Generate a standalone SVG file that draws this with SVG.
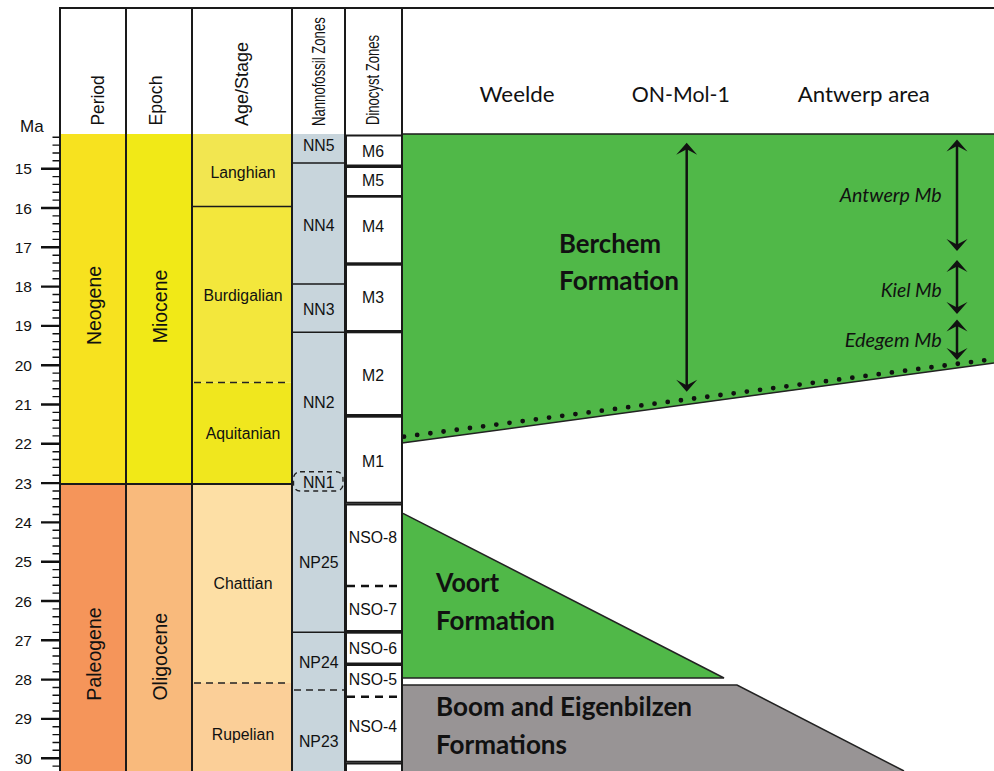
<svg xmlns="http://www.w3.org/2000/svg" width="994" height="771" viewBox="0 0 994 771">
<defs>
<style>
.ln{stroke:#1a1a1a;stroke-width:2;fill:none}
.thin{stroke:#1a1a1a;stroke-width:1.6;fill:none}
.dash{stroke:#222;stroke-width:1.6;stroke-dasharray:7 5;fill:none}
.dashb{stroke:#111;stroke-width:2.6;stroke-dasharray:8 6;fill:none}
.box{fill:#fff;stroke:#1a1a1a;stroke-width:2}
.t{font-family:"Liberation Sans",Arial,Helvetica,sans-serif;fill:#111}
.z{font-size:15.8px;text-anchor:middle}
.h{font-size:18px}
.v{font-size:19.5px;text-anchor:middle}
.c{font-family:Lato,"Open Sans",sans-serif;fill:#111}
.fb{font-weight:bold;font-size:27px}
.fi{font-style:italic;font-size:19px;text-anchor:end}
.loc{font-size:21px}
.arr{stroke:#111;stroke-width:2.5;fill:none;marker-start:url(#ah);marker-end:url(#ah)}
</style>
<marker id="ah" viewBox="-13 -12 14 24" refX="-3" refY="0" markerWidth="14" markerHeight="24" markerUnits="userSpaceOnUse" orient="auto-start-reverse">
<path d="M0,0 L-12,-10.5 L-6.5,0 L-12,10.5 Z" fill="#111"/>
</marker>
</defs>
<rect x="0" y="0" width="994" height="771" fill="#fff"/>

<g id="period">
<rect x="60" y="134" width="66" height="350" fill="#F7E21F"/>
<rect x="60" y="484" width="66" height="287" fill="#F5955A"/>
<text class="t v" transform="translate(101.3,305.5) rotate(-90)">Neogene</text>
<text class="t v" transform="translate(101.3,654) rotate(-90)">Paleogene</text>
</g>
<g id="epoch">
<rect x="126" y="134" width="66" height="350" fill="#F1E917"/>
<rect x="126" y="484" width="66" height="287" fill="#F9BA7C"/>
<text class="t v" transform="translate(166.7,306.5) rotate(-90)">Miocene</text>
<text class="t v" transform="translate(166.7,656.7) rotate(-90)">Oligocene</text>
</g>
<g id="stage">
<rect x="192" y="134" width="100" height="72.5" fill="#F2E650"/>
<rect x="192" y="206.5" width="100" height="176" fill="#F3E73C"/>
<rect x="192" y="382.5" width="100" height="101.5" fill="#F0E71E"/>
<rect x="192" y="484" width="100" height="199" fill="#FDDFA5"/>
<rect x="192" y="683" width="100" height="88" fill="#FBCF98"/>
<path class="thin" d="M192,206.5H292"/>
<path class="dash" d="M194,382.5H290"/>
<path class="dash" d="M194,683H290"/>
<text class="t z" x="243" y="177.5">Langhian</text>
<text class="t z" x="243" y="301">Burdigalian</text>
<text class="t z" x="243" y="439.3">Aquitanian</text>
<text class="t z" x="243" y="589.3">Chattian</text>
<text class="t z" x="243" y="739.5">Rupelian</text>
</g>
<path class="ln" d="M60,484H292"/>

<g id="nannofossil">
<rect x="292" y="134" width="53" height="637" fill="#C8D5DC"/>
<path class="thin" d="M292,163H345M292,284H345M292,332.3H345M292,632.3H345"/>
<path class="dash" d="M294,690H344"/>
<rect x="293.5" y="471.7" width="49.5" height="19.3" rx="6.5" fill="none" stroke="#222" stroke-width="1.4" stroke-dasharray="5 4"/>
<text class="t z" x="318.7" y="150.7">NN5</text>
<text class="t z" x="318.7" y="230.7">NN4</text>
<text class="t z" x="318.7" y="315">NN3</text>
<text class="t z" x="318.7" y="408.3">NN2</text>
<text class="t z" x="318.7" y="487.7">NN1</text>
<text class="t z" x="318.7" y="568.3">NP25</text>
<text class="t z" x="318.7" y="667.7">NP24</text>
<text class="t z" x="318.7" y="746.7">NP23</text>
</g>

<g id="dinocyst">
<rect class="box" x="346" y="135.5" width="56" height="30"/>
<rect class="box" x="346" y="167" width="56" height="29"/>
<rect class="box" x="346" y="196.7" width="56" height="66.6"/>
<rect class="box" x="346" y="264.7" width="56" height="66.3"/>
<rect class="box" x="346" y="332.3" width="56" height="82.7"/>
<rect class="box" x="346" y="416.7" width="56" height="86"/>
<rect class="box" x="346" y="504.5" width="56" height="126.5"/>
<rect class="box" x="346" y="632.7" width="56" height="30.8"/>
<rect class="box" x="346" y="665" width="56" height="96.7"/>
<rect class="box" x="346" y="763.5" width="56" height="20"/>
<path class="dashb" d="M347,586H401M347,696.7H401"/>
<text class="t z" x="373" y="156.7">M6</text>
<text class="t z" x="373" y="185.7">M5</text>
<text class="t z" x="373" y="231.7">M4</text>
<text class="t z" x="373" y="303.3">M3</text>
<text class="t z" x="373" y="381">M2</text>
<text class="t z" x="373" y="466.7">M1</text>
<text class="t z" x="373" y="542.7">NSO-8</text>
<text class="t z" x="373" y="615">NSO-7</text>
<text class="t z" x="373" y="654">NSO-6</text>
<text class="t z" x="373" y="685">NSO-5</text>
<text class="t z" x="373" y="732.3">NSO-4</text>
</g>

<g id="headers">
<text class="t h" transform="translate(103.5,125.5) rotate(-90)" textLength="50" lengthAdjust="spacingAndGlyphs">Period</text>
<text class="t h" transform="translate(161.5,125.5) rotate(-90)" textLength="50" lengthAdjust="spacingAndGlyphs">Epoch</text>
<text class="t h" transform="translate(248,126) rotate(-90)" textLength="84" lengthAdjust="spacingAndGlyphs">Age/Stage</text>
<text class="t" font-size="18" transform="translate(325,126) rotate(-90) scale(0.73,1)">Nannofossil Zones</text>
<text class="t" font-size="18" transform="translate(379,125) rotate(-90) scale(0.726,1)">Dinocyst Zones</text>
<text class="c loc" x="479.5" y="101.7" textLength="75" lengthAdjust="spacingAndGlyphs">Weelde</text>
<text class="c loc" x="631.8" y="101.7" textLength="98" lengthAdjust="spacingAndGlyphs">ON-Mol-1</text>
<text class="c loc" x="797.7" y="101.7" textLength="132" lengthAdjust="spacingAndGlyphs">Antwerp area</text>
</g>

<g id="berchem">
<polygon points="403,134 994,134 994,363 403,443" fill="#50B848"/>
<path d="M402,443L994,363" stroke="#222" stroke-width="1.5" fill="none"/>
<path d="M404,436.7L994,359" stroke="#111" stroke-width="4.8" stroke-linecap="round" stroke-dasharray="0 13.3" fill="none"/>
<text class="c fb" x="559" y="252.7" textLength="102" lengthAdjust="spacingAndGlyphs">Berchem</text>
<text class="c fb" x="559" y="290" textLength="120" lengthAdjust="spacingAndGlyphs">Formation</text>
<text class="c fi" x="941.7" y="202.3" textLength="102" lengthAdjust="spacingAndGlyphs">Antwerp Mb</text>
<text class="c fi" x="941.7" y="296.7" textLength="61" lengthAdjust="spacingAndGlyphs">Kiel Mb</text>
<text class="c fi" x="941.7" y="346.7" textLength="97" lengthAdjust="spacingAndGlyphs">Edegem Mb</text>
</g>
<g id="voort">
<polygon points="403,513.3 724,678 403,678" fill="#50B848"/>
<path d="M403,513.3L724,678H403" stroke="#222" stroke-width="1.5" fill="none"/>
<text class="c fb" x="436" y="591.7" textLength="63" lengthAdjust="spacingAndGlyphs">Voort</text>
<text class="c fb" x="436" y="630" textLength="119" lengthAdjust="spacingAndGlyphs">Formation</text>
</g>
<g id="boom">
<polygon points="403,685 737,685 904,771 403,771" fill="#989495"/>
<path d="M403,685H737L904,771" stroke="#222" stroke-width="1.5" fill="none"/>
<text class="c fb" x="436" y="716" textLength="256" lengthAdjust="spacingAndGlyphs">Boom and Eigenbilzen</text>
<text class="c fb" x="436" y="754" textLength="131" lengthAdjust="spacingAndGlyphs">Formations</text>
</g>

<g id="connectors">
<path class="arr" d="M686.7,145.7V388.7"/>
<path class="arr" d="M957,142.5V248"/>
<path class="arr" d="M957,263V311"/>
<path class="arr" d="M957,322.5V357"/>
</g>

<g id="frame">
<path class="ln" d="M59,8H994"/>
<path class="thin" d="M402,134H994"/>
<path class="ln" d="M60,8V771M126,8V771M192,8V771M292,8V771M345,8V771M402,8V771"/>
</g>

<g id="axis">
<path stroke="#111" stroke-width="1.4" d="M52.5,137.3h7.5M52.5,145.1h7.5M52.5,153h7.5M52.5,160.8h7.5M52.5,176.6h7.5M52.5,184.4h7.5M52.5,192.3h7.5M52.5,200.1h7.5M52.5,215.9h7.5M52.5,223.7h7.5M52.5,231.6h7.5M52.5,239.4h7.5M52.5,255.2h7.5M52.5,263h7.5M52.5,270.9h7.5M52.5,278.7h7.5M52.5,294.5h7.5M52.5,302.3h7.5M52.5,310.2h7.5M52.5,318h7.5M52.5,333.8h7.5M52.5,341.6h7.5M52.5,349.5h7.5M52.5,357.3h7.5M52.5,373.1h7.5M52.5,380.9h7.5M52.5,388.8h7.5M52.5,396.6h7.5M52.5,412.4h7.5M52.5,420.2h7.5M52.5,428.1h7.5M52.5,435.9h7.5M52.5,451.7h7.5M52.5,459.5h7.5M52.5,467.4h7.5M52.5,475.2h7.5M52.5,491h7.5M52.5,498.8h7.5M52.5,506.7h7.5M52.5,514.5h7.5M52.5,530.3h7.5M52.5,538.1h7.5M52.5,546h7.5M52.5,553.8h7.5M52.5,569.6h7.5M52.5,577.4h7.5M52.5,585.3h7.5M52.5,593.1h7.5M52.5,608.9h7.5M52.5,616.7h7.5M52.5,624.6h7.5M52.5,632.4h7.5M52.5,648.2h7.5M52.5,656h7.5M52.5,663.9h7.5M52.5,671.7h7.5M52.5,687.5h7.5M52.5,695.3h7.5M52.5,703.2h7.5M52.5,711h7.5M52.5,726.8h7.5M52.5,734.6h7.5M52.5,742.5h7.5M52.5,750.3h7.5M52.5,766.1h7.5"/>
<path stroke="#111" stroke-width="2.4" d="M41,168.7h19M41,208h19M41,247.3h19M41,286.6h19M41,325.9h19M41,365.2h19M41,404.5h19M41,443.8h19M41,483.1h19M41,522.4h19M41,561.7h19M41,601h19M41,640.3h19M41,679.6h19M41,718.9h19M41,758.2h19"/>
<g class="t" font-size="15.5" text-anchor="end">
<text x="32" y="174.2">15</text>
<text x="32" y="213.5">16</text>
<text x="32" y="252.8">17</text>
<text x="32" y="292.1">18</text>
<text x="32" y="331.4">19</text>
<text x="32" y="370.7">20</text>
<text x="32" y="410">21</text>
<text x="32" y="449.3">22</text>
<text x="32" y="488.6">23</text>
<text x="32" y="527.9">24</text>
<text x="32" y="567.2">25</text>
<text x="32" y="606.5">26</text>
<text x="32" y="645.8">27</text>
<text x="32" y="685.1">28</text>
<text x="32" y="724.4">29</text>
<text x="32" y="763.7">30</text>
</g>
<text class="t" font-size="17" x="20" y="131.7">Ma</text>
</g>
</svg>
